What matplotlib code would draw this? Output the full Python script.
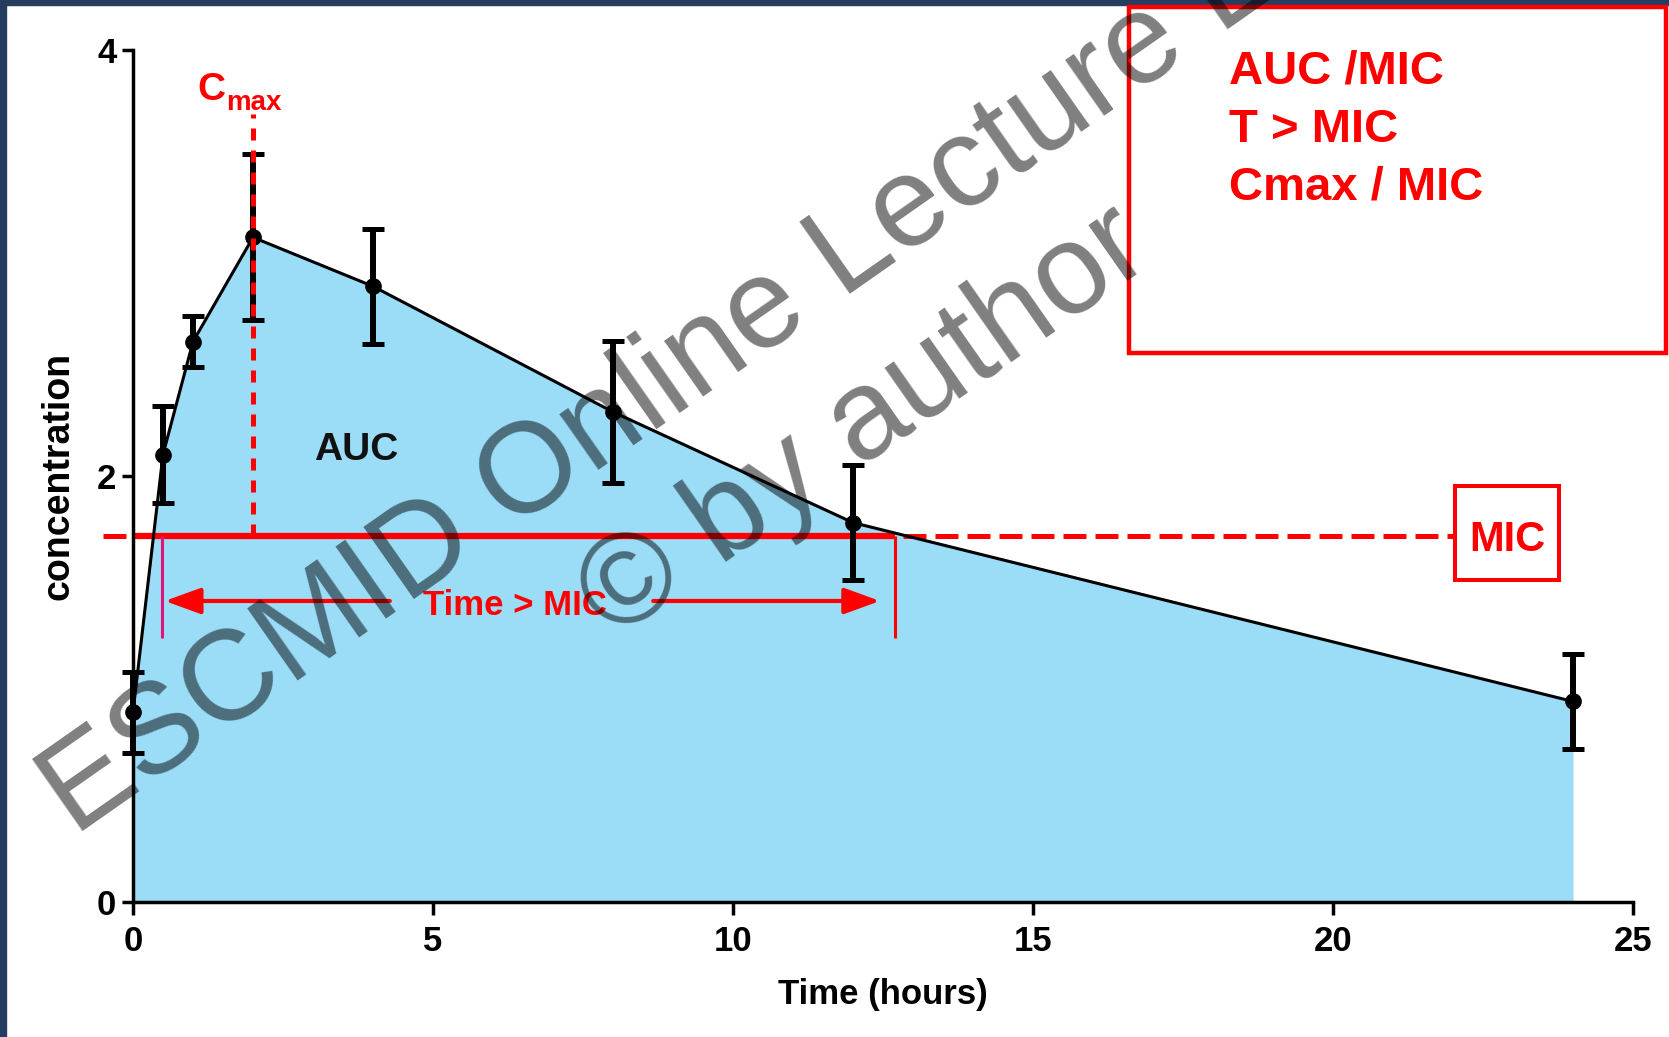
import matplotlib
matplotlib.use("Agg")
import matplotlib.pyplot as plt
from matplotlib.patches import Rectangle
import numpy as np

# mean concentration-time profile with SD
time = [0, 0.5, 1, 2, 4, 8, 12, 24]
conc = [0.89, 2.10, 2.63, 3.12, 2.89, 2.30, 1.78, 0.94]
sd = [0.19, 0.23, 0.12, 0.39, 0.27, 0.335, 0.27, 0.225]

mic = 1.715
t_above = [0.48, 12.7]   # window where concentration stays above MIC

x_ticks = [0, 5, 10, 15, 20, 25]
y_ticks = [0, 2, 4]
pkpd_indices = ["AUC /MIC", "T > MIC", "Cmax / MIC"]

plt.rcParams["font.family"] = ["Liberation Sans", "DejaVu Sans"]

W, H = 1669, 1037
fig = plt.figure(figsize=(W / 100, H / 100), dpi=100)
ax = fig.add_axes([133 / W, 1 - 901.6 / H, 1500 / W, 851.6 / H])

# area under the curve
ax.fill_between(time, conc, 0, color="#9bdcf7", lw=0, zorder=1)

# MIC line
ax.plot([-0.5, 22.03], [mic, mic], color="red", lw=3.6, dashes=(4.6, 1.8),
        clip_on=False, zorder=2)
ax.plot([0, t_above[1]], [mic, mic], color="red", lw=4.5,
        solid_capstyle="butt", zorder=2)
ax.vlines(t_above, 1.24, mic, colors=["#e0157a", "red"], lw=2.2, zorder=2)

# time > MIC arrows
arrow = dict(arrowstyle="-|>,head_length=1.1,head_width=0.4", color="red",
             lw=3, mutation_scale=20, shrinkA=0, shrinkB=0)
ax.annotate("", xy=(0.53, 1.412), xytext=(4.28, 1.412), arrowprops=arrow, zorder=3)
ax.annotate("", xy=(12.45, 1.412), xytext=(8.67, 1.412), arrowprops=arrow, zorder=3)
ax.text(6.37, 1.346, "Time > MIC", color="red", fontsize=25, fontweight="bold",
        ha="center", va="baseline", zorder=3)

# curve and error bars
ax.plot(time, conc, color="black", lw=2.2, zorder=4)
eb = ax.errorbar(time, conc, yerr=sd, fmt="o", color="black", ms=11,
                 elinewidth=4.3, capsize=8, capthick=3.6, zorder=5)
for art in [eb[0], *eb[1], *eb[2]]:
    art.set_clip_on(False)

# Cmax marker line
i_max = int(np.argmax(conc))
ax.plot([time[i_max]] * 2, [mic, 3.70], color="red", lw=3.6, dashes=(2.4, 2.0),
        zorder=6)
ax.text(1.07, 3.765, "C", color="red", fontsize=28, fontweight="bold",
        ha="left", va="baseline")
ax.text(1.55, 3.718, "max", color="red", fontsize=20, fontweight="bold",
        ha="left", va="baseline")

ax.text(3.72, 2.074, "AUC", color="#111111", fontsize=28, fontweight="bold",
        ha="center", va="baseline", zorder=6)

# MIC label box
ax.add_patch(Rectangle((22.03, 1.511), 1.74, 0.441, fill=False, ec="red",
                       lw=2.9, clip_on=False, zorder=6))
ax.text(22.9, 1.646, "MIC", color="red", fontsize=30, fontweight="bold",
        ha="center", va="baseline", zorder=6)

# axes styling
ax.set_xlim(0, 25)
ax.set_ylim(0, 4)
ax.set_xticks(x_ticks)
ax.set_yticks(y_ticks)
for s in ["top", "right"]:
    ax.spines[s].set_visible(False)
for s in ["left", "bottom"]:
    ax.spines[s].set_linewidth(2.5)
ax.tick_params(axis="x", width=2.5, length=9, labelsize=25, pad=8)
ax.tick_params(axis="y", width=2.5, length=8, labelsize=25, pad=4)
for lbl in ax.get_xticklabels() + ax.get_yticklabels():
    lbl.set_fontweight("bold")

ax.set_xlabel("Time (hours)", fontsize=25, fontweight="bold")
ax.xaxis.set_label_coords(0.5, -0.120)
ax.xaxis.label.set_va("baseline")
ax.set_ylabel("concentration", fontsize=27, fontweight="bold")
ax.yaxis.set_label_coords(-0.0497, 0.5)
ax.yaxis.label.set_va("center")

# slide frame
navy = "#253d5e"
fig.patches.append(Rectangle((0, 0), 6 / W, 1, transform=fig.transFigure,
                             color=navy, zorder=1))
fig.patches.append(Rectangle((0, 1 - 5 / H), 1, 5 / H, transform=fig.transFigure,
                             color=navy, zorder=1))

# PK/PD indices box
fig.patches.append(Rectangle((1128.5 / W, 1 - 353 / H), 537 / W, 346 / H,
                             transform=fig.transFigure, fc="white", ec="red",
                             lw=3.2, zorder=2))
for label, yb in zip(pkpd_indices, [0.919, 0.863, 0.808]):
    fig.text(1229 / W, yb, label, color="red", fontsize=34, fontweight="bold",
             ha="left", va="baseline", zorder=3)

# watermark
wm = dict(rotation=35, rotation_mode="anchor", ha="left", va="baseline",
          fontsize=92, color="black", alpha=0.5, zorder=10)
fig.text(75 / W, 1 - 837 / H, "ESCMID Online Lecture Library", **wm)
fig.text(614 / W, 1 - 641 / H, "\u00a9 by author", **wm)

fig.savefig("out.png", dpi=100)
